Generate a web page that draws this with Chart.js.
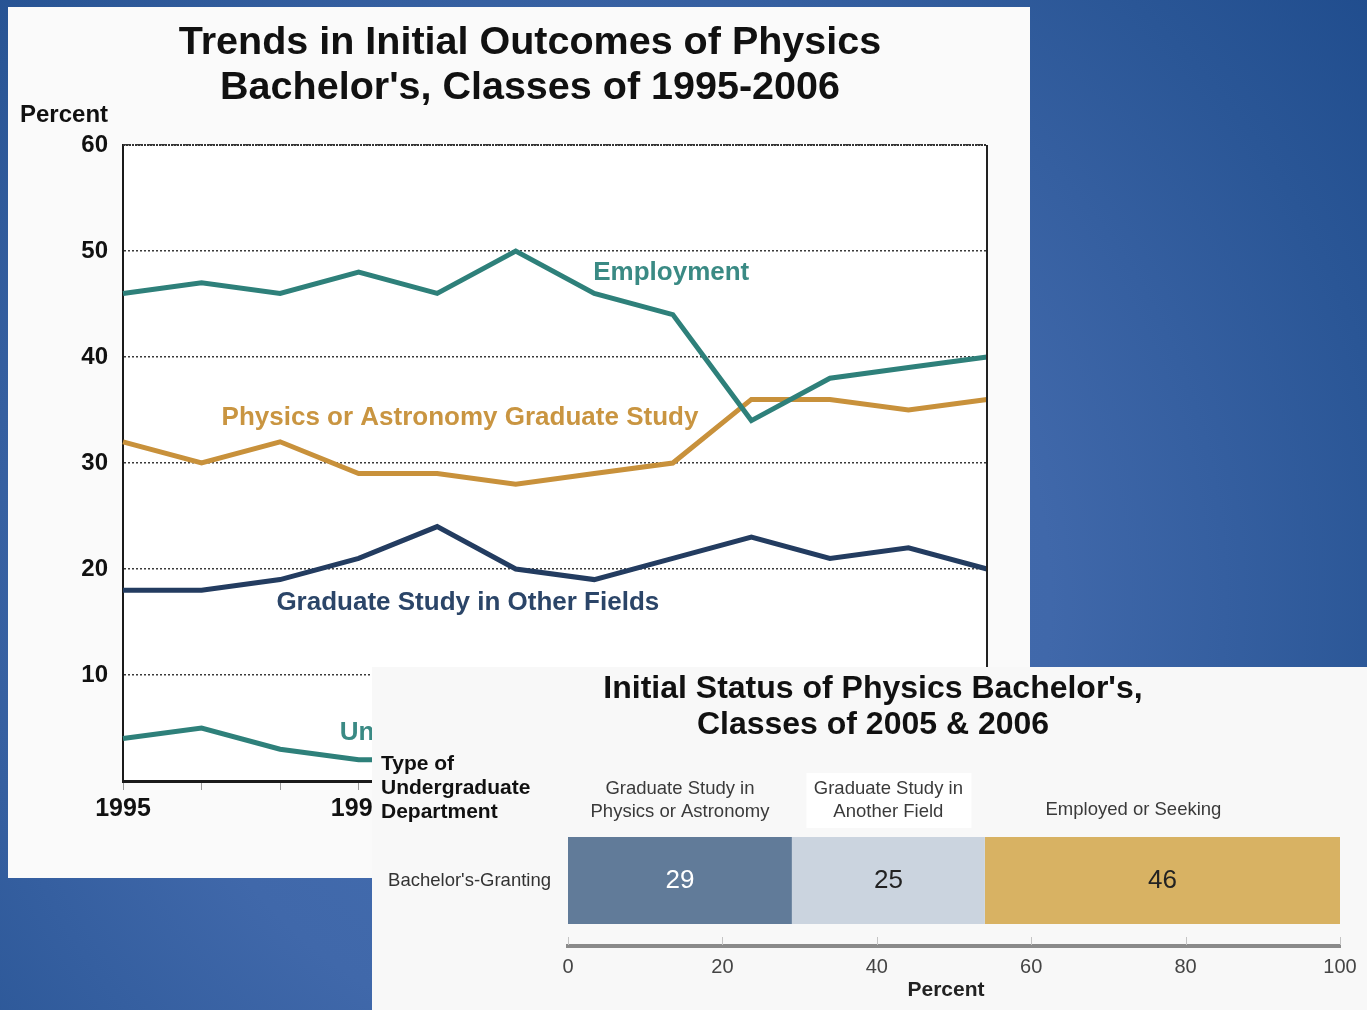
<!DOCTYPE html>
<html>
<head>
<meta charset="utf-8">
<script src="https://cdn.jsdelivr.net/npm/chart.js@4.4.1/dist/chart.umd.min.js"></script>
<style>
  html, body { margin: 0; padding: 0; }
  body {
    width: 1367px; height: 1010px; overflow: hidden; position: relative;
    background: radial-gradient(circle 1000px at 600px 600px, #4670b2 0px, #4068aa 450px, #2a5696 800px, #1f4c8d 1000px);
  }
  #trend { position: absolute; left: 8px; top: 7px; width: 1022px; height: 871px; background: #fafafa; }
  #status { position: absolute; left: 372px; top: 667px; width: 995px; height: 343px; background: #f8f8f8; }
  canvas { display: block; }
</style>
</head>
<body>
<div id="trend"><canvas id="trendChart" width="1022" height="871"></canvas></div>
<div id="status"><canvas id="statusChart" width="995" height="343"></canvas></div>
<script>
// ---- Trends in initial outcomes, classes of 1995-2006 ----
const years = ['1995','1996','1997','1998','1999','2000','2001','2002','2003','2004','2005','2006'];
const xTickLabels = ['1995','','','1998','','','2001','','','2004','',''];
const yTickValues = [0, 10, 20, 30, 40, 50, 60];
const yTickLabels = ['', '10', '20', '30', '40', '50', '60'];

const employment  = [46, 47, 46, 48, 46, 50, 46, 44, 34, 38, 39, 40];
const physicsGrad = [32, 30, 32, 29, 29, 28, 29, 30, 36, 36, 35, 36];
const otherFields = [18, 18, 19, 21, 24, 20, 19, 21, 23, 21, 22, 20];
const unemployed  = [4, 5, 3, 2, 2, 2, 3, 4, 5, 4, 3, 3];

const seriesNames = ['Employment', 'Physics or Astronomy Graduate Study', 'Graduate Study in Other Fields', 'Unemployed'];

// ---- Initial status, classes of 2005 & 2006 ----
const departments = ["Bachelor's-Granting"];
const outcomeHeaders = [['Graduate Study in', 'Physics or Astronomy'], ['Graduate Study in', 'Another Field'], ['Employed or Seeking']];
const physicsShare  = [29];
const anotherShare  = [25];
const employedShare = [46];
const percentTicks  = [0, 20, 40, 60, 80, 100];

const FONT = "'Liberation Sans', Arial, Helvetica, sans-serif";
const TEAL = '#2e807a', GOLD = '#c8913b', NAVY = '#233c60';

// Annotation placement for the line labels, in (category index, percent) units
const lineLabelSpots = [
  { i: 6.98, v: 47.9, color: '#3a8a84', align: 'center' },
  { i: 4.29, v: 34.3, color: '#c99541', align: 'center' },
  { i: 4.39, v: 16.8, color: '#2b4568', align: 'center' },
  { i: 2.76, v: 4.5,  color: '#3a8a84', align: 'left' }
];

const trendDecor = {
  id: 'trendDecor',
  beforeDraw(chart) {
    const { ctx, chartArea: a } = chart;
    ctx.save();
    ctx.fillStyle = '#ffffff';
    ctx.fillRect(a.left, a.top, a.right - a.left, a.bottom - a.top);
    ctx.restore();
  },
  afterDraw(chart) {
    const { ctx, chartArea: a, scales } = chart;
    ctx.save();
    // frame: right side and top
    ctx.strokeStyle = '#222';
    ctx.lineWidth = 2;
    ctx.beginPath();
    ctx.moveTo(a.right, a.top);
    ctx.lineTo(a.right, a.bottom);
    ctx.stroke();
    ctx.strokeStyle = '#333';
    ctx.setLineDash([2, 1]);
    ctx.beginPath();
    ctx.moveTo(a.left, a.top);
    ctx.lineTo(a.right, a.top);
    ctx.stroke();
    ctx.setLineDash([]);

    // title
    ctx.fillStyle = '#111';
    ctx.textAlign = 'center';
    ctx.textBaseline = 'middle';
    ctx.font = `bold 39.5px ${FONT}`;
    ctx.fillText('Trends in Initial Outcomes of Physics', 522, 36);
    ctx.fillText("Bachelor's, Classes of 1995-2006", 522, 81);

    // axis caption
    ctx.textAlign = 'left';
    ctx.font = `bold 24px ${FONT}`;
    ctx.fillText('Percent', 12, 108);

    // line labels
    ctx.font = `bold 26px ${FONT}`;
    lineLabelSpots.forEach((s, k) => {
      ctx.fillStyle = s.color;
      ctx.textAlign = s.align;
      ctx.fillText(seriesNames[k], scales.x.getPixelForValue(s.i), scales.y.getPixelForValue(s.v));
    });
    ctx.restore();
  }
};

new Chart(document.getElementById('trendChart'), {
  type: 'line',
  data: {
    labels: years,
    datasets: [
      { label: seriesNames[0], data: employment,  borderColor: TEAL },
      { label: seriesNames[1], data: physicsGrad, borderColor: GOLD },
      { label: seriesNames[2], data: otherFields, borderColor: NAVY },
      { label: seriesNames[3], data: unemployed,  borderColor: TEAL }
    ]
  },
  options: {
    responsive: false,
    animation: false,
    layout: { padding: { top: 138, right: 43, bottom: 0, left: 0 } },
    elements: { line: { borderWidth: 5, tension: 0, fill: false }, point: { radius: 0 } },
    plugins: { legend: { display: false }, tooltip: { enabled: false }, title: { display: false } },
    scales: {
      x: {
        afterFit(scale) { scale.height = 97; },
        grid: { drawOnChartArea: false, drawTicks: true, tickLength: 9, color: '#9a9a9a', lineWidth: 1 },
        border: { color: '#1a1a1a', width: 3 },
        ticks: {
          autoSkip: false, maxRotation: 0, padding: 4, color: '#111',
          font: { family: FONT, size: 25, weight: 'bold' },
          callback: (v, i) => xTickLabels[i]
        }
      },
      y: {
        min: 0, max: 60,
        afterFit(scale) { scale.width = 115; },
        afterBuildTicks(scale) { scale.ticks = yTickValues.map(v => ({ value: v })); },
        grid: { color: '#3a3a3a', lineWidth: 1.5, drawTicks: false },
        border: { color: '#1a1a1a', width: 2, dash: [2, 2] },
        ticks: {
          padding: 15, color: '#111',
          font: { family: FONT, size: 24, weight: 'bold' },
          callback: (v) => yTickLabels[yTickValues.indexOf(v)]
        }
      }
    }
  },
  plugins: [trendDecor]
});

// ---- stacked bar panel ----
const segColors = ['#617b99', '#cbd4df', '#d8b263'];
const segText = ['#ffffff', '#222222', '#222222'];
const headerShift = [0, 0, -29];

const statusDecor = {
  id: 'statusDecor',
  beforeDatasetsDraw(chart) {
    const { ctx, scales } = chart;
    const sets = chart.data.datasets;
    ctx.save();
    // header backing for the middle column
    let start = 0;
    for (let k = 0; k < sets.length; k++) {
      const val = sets[k].data[0];
      if (k === 1) {
        const cx = scales.x.getPixelForValue(start + val / 2);
        ctx.fillStyle = '#ffffff';
        ctx.fillRect(cx - 82, 106, 165, 55);
      }
      start += val;
    }
    ctx.restore();
  },
  afterDraw(chart) {
    const { ctx, chartArea: a, scales } = chart;
    const sets = chart.data.datasets;
    ctx.save();
    // titles
    ctx.fillStyle = '#111';
    ctx.textAlign = 'center';
    ctx.textBaseline = 'middle';
    ctx.font = `bold 32px ${FONT}`;
    ctx.fillText("Initial Status of Physics Bachelor's,", 501, 22);
    ctx.fillText('Classes of 2005 & 2006', 501, 58);

    ctx.textAlign = 'left';
    ctx.font = `bold 21px ${FONT}`;
    ['Type of', 'Undergraduate', 'Department'].forEach((t, k) => ctx.fillText(t, 9, 97 + k * 24));

    // column headers and in-bar values
    let start = 0;
    const yMid = scales.y.getPixelForValue(0);
    sets.forEach((ds, k) => {
      const val = ds.data[0];
      const cx = scales.x.getPixelForValue(start + val / 2);
      ctx.textAlign = 'center';
      ctx.fillStyle = '#3a3a3a';
      ctx.font = `18.5px ${FONT}`;
      const lines = outcomeHeaders[k];
      if (lines.length === 2) {
        ctx.fillText(lines[0], cx + headerShift[k], 122);
        ctx.fillText(lines[1], cx + headerShift[k], 145);
      } else {
        ctx.fillText(lines[0], cx + headerShift[k], 143);
      }
      ctx.fillStyle = segText[k];
      ctx.font = `26px ${FONT}`;
      ctx.fillText(String(val), cx, yMid);
      start += val;
    });

    // small tick marks rising from the axis
    ctx.strokeStyle = '#c4c4c4';
    ctx.lineWidth = 1;
    percentTicks.forEach(v => {
      const x = Math.round(scales.x.getPixelForValue(v)) + 0.5;
      ctx.beginPath();
      ctx.moveTo(x, a.bottom - 9);
      ctx.lineTo(x, a.bottom - 1);
      ctx.stroke();
    });

    ctx.fillStyle = '#222';
    ctx.font = `bold 21px ${FONT}`;
    ctx.textAlign = 'center';
    ctx.fillText('Percent', 574, 323);
    ctx.restore();
  }
};

new Chart(document.getElementById('statusChart'), {
  type: 'bar',
  data: {
    labels: departments,
    datasets: [
      { label: outcomeHeaders[0].join(' '), data: physicsShare,  backgroundColor: segColors[0] },
      { label: outcomeHeaders[1].join(' '), data: anotherShare,  backgroundColor: segColors[1] },
      { label: outcomeHeaders[2].join(' '), data: employedShare, backgroundColor: segColors[2] }
    ]
  },
  options: {
    indexAxis: 'y',
    responsive: false,
    animation: false,
    layout: { padding: { top: 148, right: 27, bottom: 0, left: 0 } },
    datasets: { bar: { categoryPercentage: 1, barPercentage: 0.664, borderWidth: 0 } },
    plugins: { legend: { display: false }, tooltip: { enabled: false } },
    scales: {
      x: {
        stacked: true, min: 0, max: 100,
        afterFit(scale) { scale.height = 64; },
        afterBuildTicks(scale) { scale.ticks = percentTicks.map(v => ({ value: v })); },
        grid: { display: false, drawTicks: false },
        border: { color: '#8a8a8a', width: 4 },
        ticks: { padding: 9, color: '#444', font: { family: FONT, size: 20 } }
      },
      y: {
        stacked: true,
        afterFit(scale) { scale.width = 196; },
        grid: { display: false, drawTicks: false },
        border: { display: false },
        ticks: { padding: 17, color: '#333', font: { family: FONT, size: 18.5 } }
      }
    }
  },
  plugins: [statusDecor]
});
</script>
</body>
</html>
